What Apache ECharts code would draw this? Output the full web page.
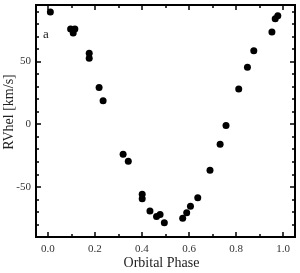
<!DOCTYPE html>
<html>
<head>
<meta charset="utf-8">
<script src="https://cdn.jsdelivr.net/npm/echarts@6/dist/echarts.min.js"></script>
<style>html,body{margin:0;padding:0;background:#fff;}#c{width:300px;height:273px;}</style>
</head>
<body>
<div id="c"></div>
<script>
var phase = [0.011,0.097,0.115,0.108,0.176,0.176,0.218,0.235,0.320,0.342,0.401,0.401,0.434,0.462,0.477,0.495,0.573,0.590,0.606,0.637,0.689,0.732,0.757,0.811,0.848,0.875,0.952,0.966,0.977];
var rv = [89.4,75.8,75.8,72.6,56.5,52.6,29.3,18.7,-24,-29.6,-56,-59.5,-69.3,-73.6,-72,-78.6,-75,-70.6,-65.4,-58.7,-36.8,-16,-1,28,45.4,58.6,73.4,84,86.4];
var xMajor = [0,0.2,0.4,0.6,0.8,1.0];
var xMinor = [0.1,0.3,0.5,0.7,0.9];
var yMajor = [-50,0,50];
var yMinor = [-80,-70,-60,-40,-30,-20,-10,10,20,30,40,60,70,80,90];

var font = 'Liberation Serif';
var data = phase.map(function(p,i){return [p, rv[i]];});
function xAx(pos, vals, len, showLabel){
  return {type:'value', position:pos, min:-0.05, max:1.05,
    axisLine:{show:true, onZero:false, lineStyle:{color:'#000', width:2}},
    axisTick:{show:true, inside:true, length:len, customValues:vals, lineStyle:{color:'#000', width:1.5}},
    axisLabel:{show:showLabel, customValues:vals, margin:7, fontFamily:font, fontSize:11, color:'#333',
      formatter:function(v){return v.toFixed(1);}},
    splitLine:{show:false}};
}
function yAx(pos, vals, len, showLabel){
  return {type:'value', position:pos, min:-90, max:95,
    axisLine:{show:true, onZero:false, lineStyle:{color:'#000', width:2}},
    axisTick:{show:true, inside:true, length:len, customValues:vals, lineStyle:{color:'#000', width:1.5}},
    axisLabel:{show:showLabel, customValues:vals, margin:5, fontFamily:font, fontSize:11, color:'#333'},
    splitLine:{show:false}};
}
var xb = xAx('bottom', xMajor, 5, true);
xb.name = 'Orbital Phase'; xb.nameLocation = 'middle'; xb.nameGap = 19; xb.nameMoveOverlap = false;
xb.nameTextStyle = {fontFamily:font, fontSize:14, color:'#222', padding:[0,8,0,0]};
var yl = yAx('left', yMajor, 5, true);
yl.name = 'RVhel [km/s]'; yl.nameLocation = 'middle'; yl.nameGap = 20; yl.nameMoveOverlap = false;
yl.nameTextStyle = {fontFamily:font, fontSize:14, color:'#222', padding:[0,0,0,18]};

var chart = echarts.init(document.getElementById('c'), null, {renderer:'canvas'});
chart.setOption({
  animation:false,
  grid:{left:36, right:5, top:5, bottom:36, containLabel:false, outerBoundsMode:'none'},
  xAxis:[xb, xAx('bottom', xMinor, 3, false), xAx('top', xMajor, 5, false), xAx('top', xMinor, 3, false)],
  yAxis:[yl, yAx('left', yMinor, 3, false), yAx('right', yMajor, 5, false), yAx('right', yMinor, 3, false)],
  graphic:[{type:'text', left:43, top:28, style:{text:'a', fontFamily:font, fontSize:13, fill:'#222'}}],
  series:[{type:'scatter', xAxisIndex:0, yAxisIndex:0, data:data, symbol:'circle', symbolSize:7,
    itemStyle:{color:'#000', opacity:1}}]
});
</script>
</body>
</html>
